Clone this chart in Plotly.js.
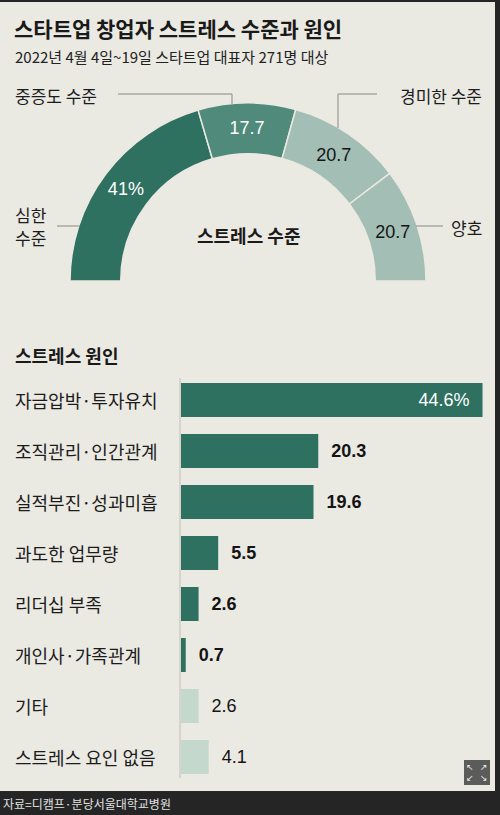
<!DOCTYPE html>
<html><head><meta charset="utf-8">
<script src="https://cdn.plot.ly/plotly-3.0.1.min.js"></script>
<style>html,body{margin:0;padding:0;background:#252525;}</style>
</head><body><div id="chart" style="width:500px;height:815px;"></div>
<script>
// ---- data ----
const levelLabels = ['심한 수준', '중증도 수준', '경미한 수준', '양호'];
const levelValues = [41, 17.7, 20.7, 20.7];
const levelText = ['41%', '17.7', '20.7', '20.7'];

const causeCategories = ['자금압박·투자유치', '조직관리·인간관계', '실적부진·성과미흡', '과도한 업무량', '리더십 부족', '개인사·가족관계', '기타', '스트레스 요인 없음'];
const causeValuesMain = [44.6, 20.3, 19.6, 5.5, 2.6, 0.7];
const causeValuesOther = [2.6, 4.1];

// ---- helpers ----
const W = 500, H = 815;
const px = x => x / W;
const py = y => 1 - y / H;
const KR = "'Noto Sans CJK KR', 'Noto Sans', sans-serif";
const NUM = "'Liberation Sans', Arial, 'Noto Sans CJK KR', sans-serif";
const BG = '#eae9e2';
const DARK = '#2e7161';
const MID = '#4f8a7b';
const LIGHT = '#a3beb4';
const PALE = '#c5d8ce';
const NBSP = '\u00a0';

const hiddenHalf = levelValues.reduce((a, b) => a + b, 0);

const pie = {
  type: 'pie',
  values: levelValues.concat([hiddenHalf]),
  labels: levelLabels.concat(['']),
  text: levelText.concat(['']),
  textinfo: 'text',
  textposition: 'inside',
  insidetextorientation: 'horizontal',
  textfont: { family: NUM, size: 18, color: ['#ffffff', '#ffffff', '#141414', '#141414', 'rgba(0,0,0,0)'] },
  marker: {
    colors: [DARK, MID, LIGHT, LIGHT, 'rgba(0,0,0,0)'],
    line: { color: BG, width: [1.5, 1.5, 1.5, 1.5, 0] }
  },
  hole: 0.715,
  sort: false,
  direction: 'clockwise',
  rotation: -90,
  domain: { x: [px(70), px(426)], y: [py(459), py(103)] },
  showlegend: false,
  hoverinfo: 'none'
};

const mainCats = causeCategories.slice(0, causeValuesMain.length);
const otherCats = causeCategories.slice(causeValuesMain.length);

const barMain = {
  type: 'bar', orientation: 'h',
  x: causeValuesMain, y: mainCats,
  marker: { color: DARK, line: { width: 0 } },
  text: causeValuesMain.map((v, i) => i === 0 ? v + '%' + NBSP + NBSP : NBSP + NBSP + v),
  textposition: causeValuesMain.map((v, i) => i === 0 ? 'inside' : 'outside'),
  insidetextanchor: 'end',
  insidetextfont: { family: NUM, size: 18, color: '#ffffff' },
  outsidetextfont: { family: NUM, size: 18, color: '#141414', weight: 'bold' },
  textfont: { family: NUM, size: 18 },
  cliponaxis: false,
  constraintext: 'none',
  hoverinfo: 'none', showlegend: false
};
const barOther = {
  type: 'bar', orientation: 'h',
  x: causeValuesOther, y: otherCats,
  marker: { color: PALE, line: { width: 0 } },
  text: causeValuesOther.map(v => NBSP + NBSP + v),
  textposition: 'outside',
  outsidetextfont: { family: NUM, size: 18, color: '#141414' },
  textfont: { family: NUM, size: 18 },
  cliponaxis: false,
  constraintext: 'none',
  hoverinfo: 'none', showlegend: false
};

const shapes = [
  { type: 'rect', xref: 'paper', yref: 'paper', x0: 0, x1: px(495), y0: py(791), y1: py(2), fillcolor: BG, line: { width: 0 }, layer: 'below' },
  // leader lines
  { type: 'line', xref: 'paper', yref: 'paper', x0: px(118), x1: px(232), y0: py(94), y1: py(94), line: { color: '#8a8a86', width: 1 } },
  { type: 'line', xref: 'paper', yref: 'paper', x0: px(232), x1: px(232), y0: py(94), y1: py(104), line: { color: '#8a8a86', width: 1 } },
  { type: 'line', xref: 'paper', yref: 'paper', x0: px(377), x1: px(338), y0: py(94), y1: py(94), line: { color: '#8a8a86', width: 1 } },
  { type: 'line', xref: 'paper', yref: 'paper', x0: px(338), x1: px(338), y0: py(94), y1: py(128), line: { color: '#8a8a86', width: 1 } },
  { type: 'line', xref: 'paper', yref: 'paper', x0: px(57), x1: px(80), y0: py(226), y1: py(226), line: { color: '#8a8a86', width: 1 } },
  { type: 'line', xref: 'paper', yref: 'paper', x0: px(416), x1: px(443), y0: py(226), y1: py(226), line: { color: '#8a8a86', width: 1 } },
  // shadow left of bars
  { type: 'line', xref: 'paper', yref: 'paper', x0: px(180), x1: px(180), y0: py(378), y1: py(778), line: { color: '#d6d4cc', width: 2 }, layer: 'below' },
  // expand icon
  { type: 'rect', xref: 'paper', yref: 'paper', x0: px(464), x1: px(490), y0: py(785), y1: py(760), fillcolor: '#5b5b59', line: { width: 0 } }
];

const ann = (text, x, y, opts = {}) => Object.assign({
  text, xref: 'paper', yref: 'paper', x: px(x), y: py(y), showarrow: false,
  xanchor: 'left', yanchor: 'middle', font: { family: KR, size: 17, color: '#1c1c1c' }
}, opts);

const annotations = [
  ann('<b>스타트업 창업자 스트레스 수준과 원인</b>', 12, 28, { font: { family: KR, size: 21, color: '#1a1a1a' } }),
  ann('2022년 4월 4일~19일 스타트업 대표자 271명 대상', 13, 56, { font: { family: KR, size: 15, color: '#222' } }),
  ann(levelLabels[1], 13, 96),
  ann(levelLabels[2], 484, 96, { xanchor: 'right' }),
  ann('심한', 13, 214),
  ann('수준', 13, 238),
  ann(levelLabels[3], 484, 228, { xanchor: 'right' }),
  ann('<b>스트레스 수준</b>', 248, 235, { xanchor: 'center', font: { family: KR, size: 18, color: '#1a1a1a' } }),
  ann('<b>스트레스 원인</b>', 13, 355, { font: { family: KR, size: 18, color: '#1a1a1a' } }),
  ann('자료=디캠프·분당서울대학교병원', 1, 803, { font: { family: KR, size: 12, color: '#e2e2e2' } }),
  ann('↖', 470, 767, { xanchor: 'center', font: { family: 'DejaVu Sans', size: 9, color: '#f0f0f0' } }),
  ann('↗', 484, 767, { xanchor: 'center', font: { family: 'DejaVu Sans', size: 9, color: '#f0f0f0' } }),
  ann('↙', 470, 778, { xanchor: 'center', font: { family: 'DejaVu Sans', size: 9, color: '#f0f0f0' } }),
  ann('↘', 484, 778, { xanchor: 'center', font: { family: 'DejaVu Sans', size: 9, color: '#f0f0f0' } })
].concat(causeCategories.map(c => ({
  text: c, xref: 'paper', yref: 'y', x: px(13), y: c, showarrow: false,
  xanchor: 'left', yanchor: 'middle', font: { family: KR, size: 18, color: '#1c1c1c' }
})));

const layout = {
  width: W, height: H,
  margin: { l: 0, r: 0, t: 0, b: 0 },
  paper_bgcolor: '#252525',
  plot_bgcolor: 'rgba(0,0,0,0)',
  barmode: 'overlay',
  bargap: 0.333,
  xaxis: { domain: [px(181), px(492)], range: [0, 46], visible: false, fixedrange: true },
  yaxis: {
    domain: [py(782.5), py(374.5)], type: 'category',
    categoryorder: 'array', categoryarray: causeCategories,
    range: [causeCategories.length - 0.5, -0.5],
    showticklabels: false, showgrid: false, zeroline: false, showline: false, ticks: '', fixedrange: true
  },
  shapes, annotations,
  font: { family: KR }
};

Plotly.newPlot('chart', [barMain, barOther, pie], layout, { displayModeBar: false, staticPlot: true });
</script></body></html>
